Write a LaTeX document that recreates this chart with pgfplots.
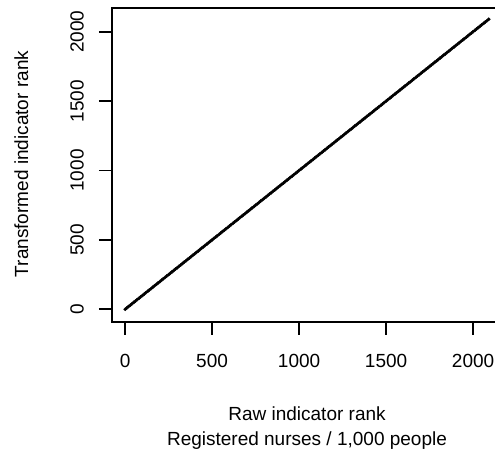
\documentclass[border=0pt]{standalone}
\usepackage{pgfplots}
\pgfplotsset{compat=1.18}
\usepackage{fontspec}
\setmainfont{Liberation Sans}
\begin{document}
\fontsize{19bp}{25bp}\selectfont
\begin{tikzpicture}
\useasboundingbox (0,-457bp) rectangle (495bp,0);
\begin{axis}[
  at={(112bp,-321.7bp)}, anchor=south west,
  scale only axis, width=390bp, height=313.4bp,
  xmin=-75, xmax=2166, ymin=-89.3, ymax=2168.6,
  xtick={0,500,1000,1500,2000}, ytick={0,500,1000,1500,2000},
  xtick pos=bottom, ytick pos=left,
  tick align=outside, major tick length=13bp,
  every tick/.style={black, line width=1.8bp},
  axis line style={line width=1.8bp},
  /pgf/number format/assume math mode=true,
  /pgf/number format/1000 sep={},
  tick label style={font=\fontsize{19bp}{23bp}\selectfont},
  xticklabel style={anchor=base, inner sep=0pt},
  yticklabel style={rotate=90, anchor=base, inner sep=0pt},
  xticklabel shift=32.3bp,
  yticklabel shift=15.4bp,
]
\addplot[only marks, mark=*, mark size=1.6bp, black] coordinates {
(1,1)(10,10)(20,20)(30,30)(40,40)(50,50)(60,60)(70,70)(80,80)(90,90)
(100,100)(110,110)(120,120)(130,130)(140,140)(150,150)(160,160)(170,170)(180,180)(190,190)
(200,200)(210,210)(220,220)(230,230)(240,240)(250,250)(260,260)(270,270)(280,280)(290,290)
(300,300)(310,310)(320,320)(330,330)(340,340)(350,350)(360,360)(370,370)(380,380)(390,390)
(400,400)(410,410)(420,420)(430,430)(440,440)(450,450)(460,460)(470,470)(480,480)(490,490)
(500,500)(510,510)(520,520)(530,530)(540,540)(550,550)(560,560)(570,570)(580,580)(590,590)
(600,600)(610,610)(620,620)(630,630)(640,640)(650,650)(660,660)(670,670)(680,680)(690,690)
(700,700)(710,710)(720,720)(730,730)(740,740)(750,750)(760,760)(770,770)(780,780)(790,790)
(800,800)(810,810)(820,820)(830,830)(840,840)(850,850)(860,860)(870,870)(880,880)(890,890)
(900,900)(910,910)(920,920)(930,930)(940,940)(950,950)(960,960)(970,970)(980,980)(990,990)
(1000,1000)(1010,1010)(1020,1020)(1030,1030)(1040,1040)(1050,1050)(1060,1060)(1070,1070)(1080,1080)(1090,1090)
(1100,1100)(1110,1110)(1120,1120)(1130,1130)(1140,1140)(1150,1150)(1160,1160)(1170,1170)(1180,1180)(1190,1190)
(1200,1200)(1210,1210)(1220,1220)(1230,1230)(1240,1240)(1250,1250)(1260,1260)(1270,1270)(1280,1280)(1290,1290)
(1300,1300)(1310,1310)(1320,1320)(1330,1330)(1340,1340)(1350,1350)(1360,1360)(1370,1370)(1380,1380)(1390,1390)
(1400,1400)(1410,1410)(1420,1420)(1430,1430)(1440,1440)(1450,1450)(1460,1460)(1470,1470)(1480,1480)(1490,1490)
(1500,1500)(1510,1510)(1520,1520)(1530,1530)(1540,1540)(1550,1550)(1560,1560)(1570,1570)(1580,1580)(1590,1590)
(1600,1600)(1610,1610)(1620,1620)(1630,1630)(1640,1640)(1650,1650)(1660,1660)(1670,1670)(1680,1680)(1690,1690)
(1700,1700)(1710,1710)(1720,1720)(1730,1730)(1740,1740)(1750,1750)(1760,1760)(1770,1770)(1780,1780)(1790,1790)
(1800,1800)(1810,1810)(1820,1820)(1830,1830)(1840,1840)(1850,1850)(1860,1860)(1870,1870)(1880,1880)(1890,1890)
(1900,1900)(1910,1910)(1920,1920)(1930,1930)(1940,1940)(1950,1950)(1960,1960)(1970,1970)(1980,1980)(1990,1990)
(2000,2000)(2010,2010)(2020,2020)(2030,2030)(2040,2040)(2050,2050)(2060,2060)(2070,2070)(2080,2080)(2090,2090)
};
\end{axis}
\node[rotate=90, anchor=base] at (28bp,-164bp) {Transformed indicator rank};
\node[anchor=base] at (307bp,-420bp) {Raw indicator rank};
\node[anchor=base] at (307bp,-445.5bp) {Registered nurses / 1,000 people};
\end{tikzpicture}
\end{document}
